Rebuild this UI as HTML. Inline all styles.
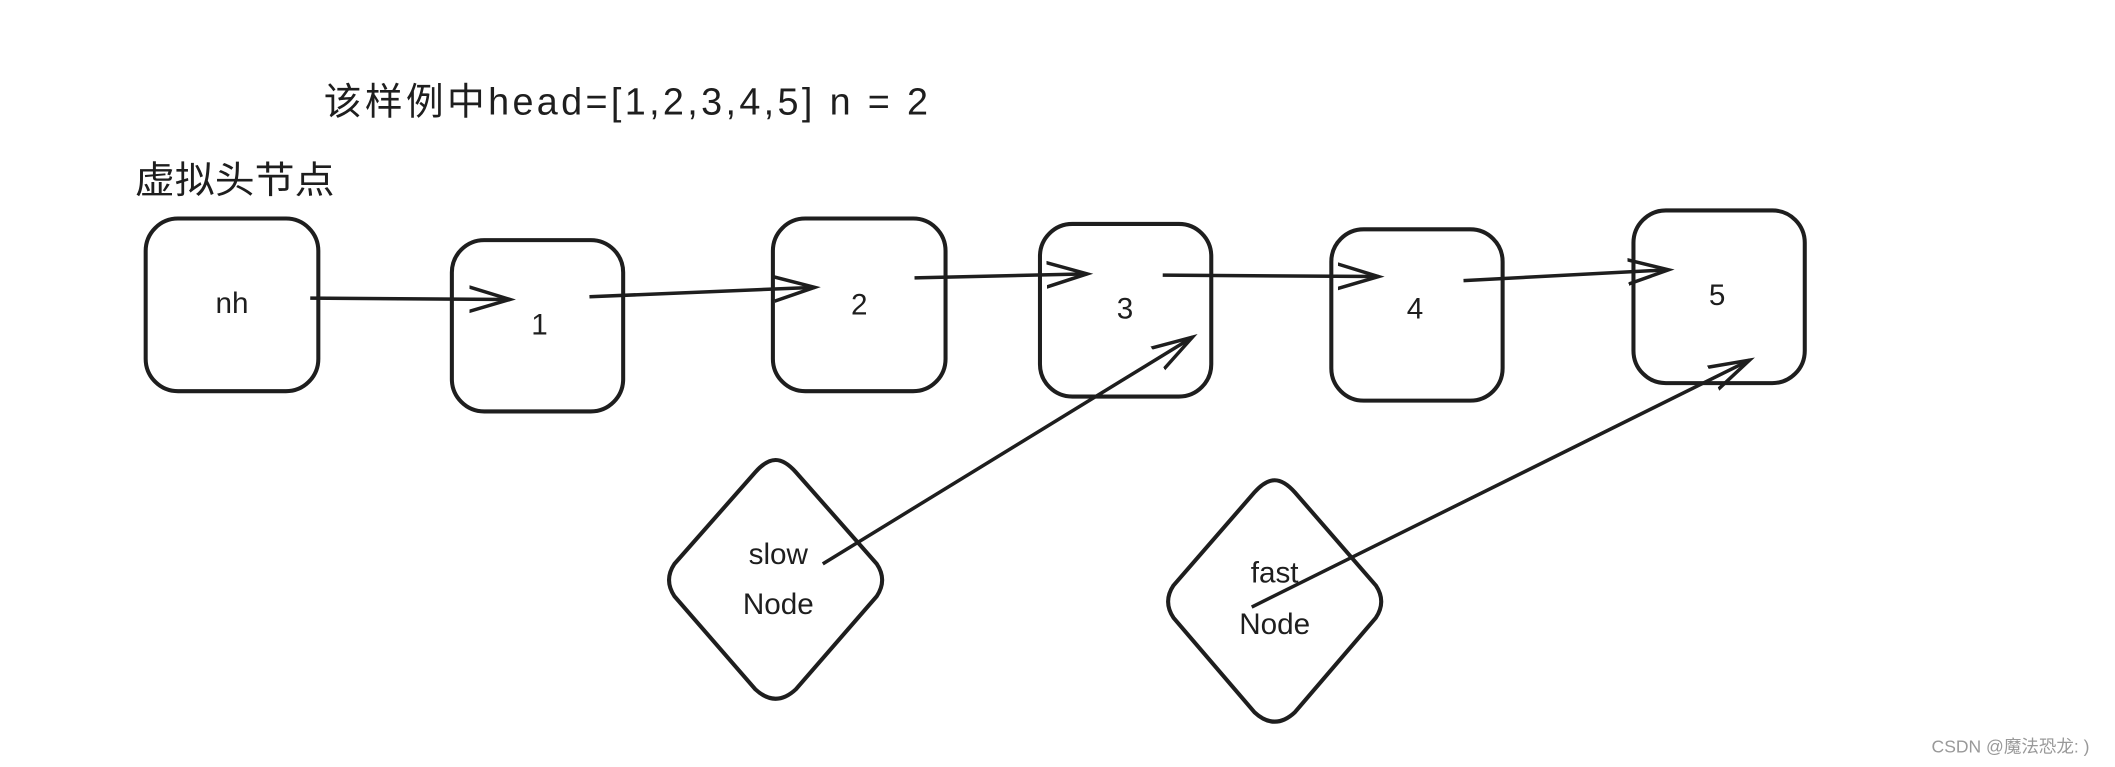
<!DOCTYPE html>
<html><head><meta charset="utf-8"><style>
html,body{margin:0;padding:0;background:#fff;}
svg{display:block}
text{font-family:"Liberation Sans","Noto Sans CJK SC",sans-serif;fill:#1e1e1e}
</style></head><body>
<svg width="2115" height="767" viewBox="0 0 1568 568.6" preserveAspectRatio="none" xmlns="http://www.w3.org/2000/svg">
<defs>
<marker id="a" markerWidth="40" markerHeight="30" refX="30" refY="12" orient="auto" markerUnits="userSpaceOnUse">
<path d="M0,3 L30,12 L0,21" fill="none" stroke="#1e1e1e" stroke-width="2.6" stroke-linecap="round"/>
</marker>
</defs>
<rect width="1568" height="568.6" fill="#fff"/>
<text x="240" y="85" font-size="28" textLength="448" lengthAdjust="spacing">该样例中head=[1,2,3,4,5] n = 2</text>
<text x="100" y="143" font-size="28" textLength="148" lengthAdjust="spacingAndGlyphs">虚拟头节点</text>
<g fill="none" stroke="#1e1e1e" stroke-width="3">
<rect x="108" y="162" width="128" height="128" rx="24"/>
<rect x="335" y="178" width="127" height="127" rx="24"/>
<rect x="573" y="162" width="128" height="128" rx="24"/>
<rect x="771" y="166" width="127" height="128" rx="24"/>
<rect x="987" y="170" width="127" height="127" rx="24"/>
<rect x="1211" y="156" width="127" height="128" rx="24"/>
<path d="M575,341 Q582,341 590,350 L650,418 Q658,430 650,442 L590,511 Q575,525 560,511 L500,442 Q492,430 500,418 L560,350 Q568,341 575,341Z"/>
<path d="M945,356 Q952,356 960,365 L1020,434 Q1028,446 1020,458 L960,528 Q945,542 930,528 L870,458 Q862,446 870,434 L930,365 Q938,356 945,356Z"/>
</g>
<g stroke="#1e1e1e" stroke-width="2.6" fill="none" marker-end="url(#a)">
<line x1="230" y1="221" x2="378" y2="222"/>
<line x1="437" y1="220" x2="604" y2="213"/>
<line x1="678" y1="206" x2="806" y2="203"/>
<line x1="862" y1="204" x2="1022" y2="205"/>
<line x1="1085" y1="208" x2="1237" y2="200"/>
<line x1="610" y1="418" x2="884" y2="250"/>
<line x1="928" y1="450" x2="1297" y2="267"/>
</g>
<g font-size="22" text-anchor="middle">
<text x="172" y="232">nh</text>
<text x="400" y="248">1</text>
<text x="637" y="233">2</text>
<text x="834" y="236">3</text>
<text x="1049" y="236">4</text>
<text x="1273" y="226">5</text>
<text x="577" y="418">slow</text>
<text x="577" y="455">Node</text>
<text x="945" y="432">fast</text>
<text x="945" y="470">Node</text>
</g>
<text x="1432" y="558" font-size="13" style="fill:#999">CSDN @魔法恐龙: )</text>
</svg>
</body></html>
